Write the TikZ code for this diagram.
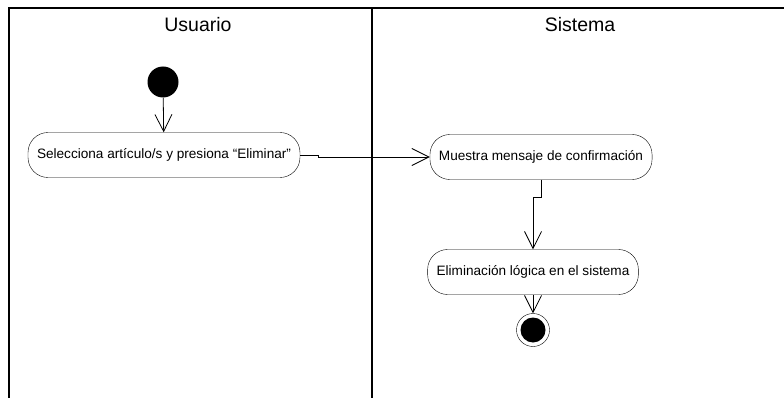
\documentclass[tikz,border=0pt]{standalone}
\usepackage{fontspec}
\setmainfont{Liberation Sans}
\usetikzlibrary{arrows.meta,positioning,calc}

\begin{document}
\begin{tikzpicture}[x=1pt,y=-1pt,
  act/.style={draw,rectangle,rounded corners=20pt,minimum height=45pt,
    inner xsep=9pt,font=\fontsize{13.6}{16}\selectfont},
  ini/.style={circle,fill=black,minimum size=31pt,inner sep=0pt},
  fin/.style={circle,draw,minimum size=33pt,inner sep=0pt,
    path picture={\fill (path picture bounding box.center) circle (12.5pt);}},
  lane/.style={line width=1.2pt},
  lbl/.style={font=\fontsize{19.5}{22}\selectfont},
  flow/.style={line width=0.8pt,-{Straight Barb[length=17pt,width=17pt]}}]
  \useasboundingbox (0,0) rectangle (784,398);

  % swimlanes
  \draw[lane] (9,398) -- (9,8) -- (784,8);
  \draw[lane] (372,8) -- (372,398);
  \node[lbl] (uL) at (198,25) {Usuario};
  \node[lbl] (sL) at (580,25) {Sistema};

  \node[ini] (s0) at (163,82) {};
  \node[act] (a1) at (164,155) {Selecciona artículo/s y presiona “Eliminar”};
  \node[act] (a2) at (541,157) {Muestra mensaje de confirmación};
  \node[act] (a3) at (533,272) {Eliminación lógica en el sistema};
  \node[fin] (f0) at (533,330) {};

  \draw[flow] (s0) -- (a1);
  \draw[flow] (a1.east) -- ++(18,0) |- (a2.west);
  \draw[flow] (a2.south) -- ++(0,18) -| (a3.north);
  \draw[flow] (a3) -- (f0);
\end{tikzpicture}
\end{document}
